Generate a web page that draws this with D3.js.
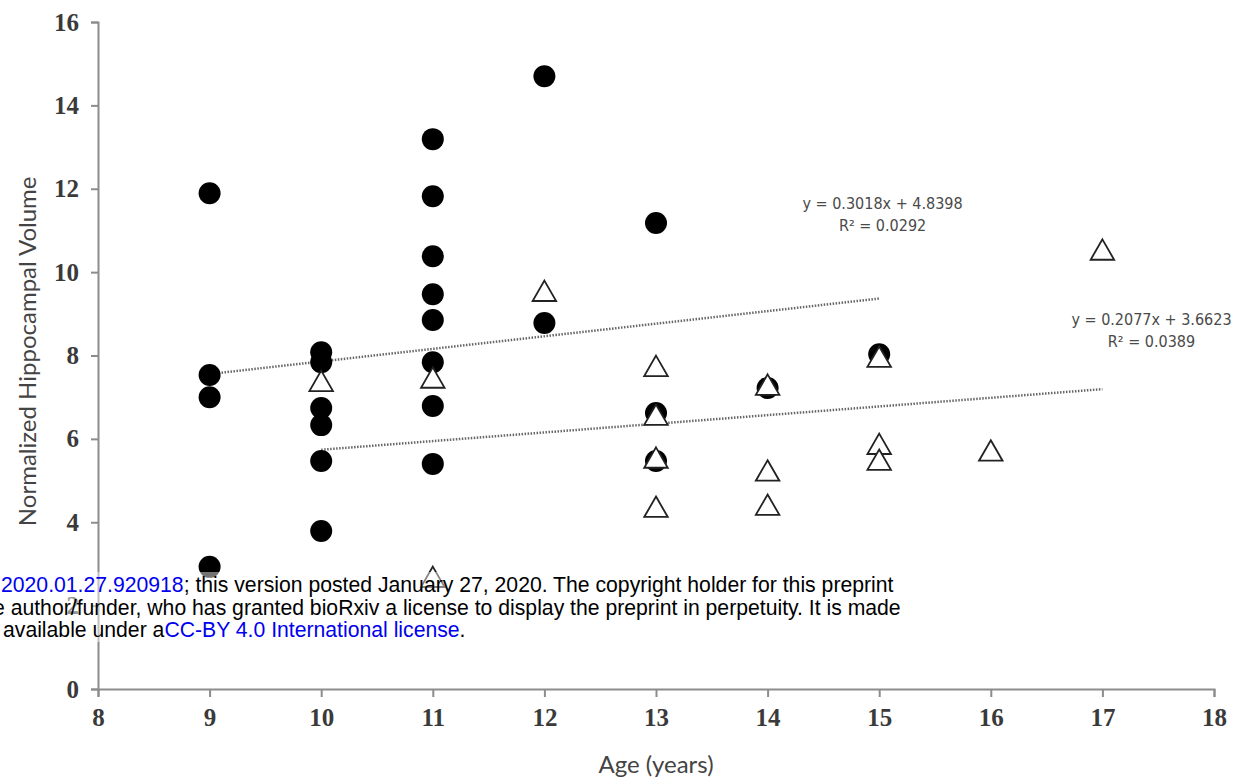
<!DOCTYPE html>
<html>
<head>
<meta charset="utf-8">
<script src="https://cdn.jsdelivr.net/npm/d3@7"></script>
<style>
  body { margin: 0; background: #fff; }
  svg { display: block; }
</style>
</head>
<body>
<svg id="chart" width="1236" height="781"></svg>
<script>
// Filled circles (group 1)
const solidAge = [9, 9, 9, 9, 10, 10, 10, 10, 10, 10, 11, 11, 11, 11, 11, 11, 11, 11, 12, 12, 13, 13, 13, 14, 15];
const solidVol = [11.89, 7.53, 7.0, 2.93, 8.08, 7.84, 6.74, 6.33, 5.47, 3.79, 13.19, 11.82, 10.38, 9.47, 8.85, 7.84, 6.79, 5.40, 14.70, 8.78, 11.18, 6.62, 5.47, 7.22, 8.03];

// Open triangles (group 2)
const openAge = [10, 11, 11, 12, 13, 13, 13, 13, 14, 14, 14, 15, 15, 15, 16, 17];
const openVol = [7.31, 7.39, 2.61, 9.47, 7.67, 6.5, 5.47, 4.29, 7.22, 5.16, 4.34, 7.89, 5.80, 5.42, 5.64, 10.46];

// Trend lines from the printed equations
const fitSlope = [0.3018, 0.2077];
const fitIntercept = [4.8398, 3.6623];
const fitFrom = [9, 10];
const fitTo = [15, 17];
const fitEquation = ["y = 0.3018x + 4.8398", "y = 0.2077x + 3.6623"];
const fitR2 = ["R² = 0.0292", "R² = 0.0389"];
const fitLabelAt = [[15.03, 11.52], [17.44, 8.74]];

const xTicks = [8, 9, 10, 11, 12, 13, 14, 15, 16, 17, 18];
const yTicks = [0, 2, 4, 6, 8, 10, 12, 14, 16];

const svg = d3.select("#chart");
const margin = { top: 22, right: 22, bottom: 92, left: 98 };
const width = 1236 - margin.left - margin.right;
const height = 781 - margin.top - margin.bottom;

const chart = svg.append("g")
  .attr("transform", `translate(${margin.left},${margin.top})`);

const x = d3.scaleLinear().domain([8, 18]).range([0, width]);
const y = d3.scaleLinear().domain([0, 16]).range([height, 0]);

const axisColor = "#8c8c8c";
const tickFont = "'Liberation Serif', 'DejaVu Serif', serif";

// X axis
const gx = chart.append("g")
  .attr("transform", `translate(0,${height})`)
  .call(d3.axisBottom(x).tickValues(xTicks).tickSize(8).tickPadding(11).tickFormat(d3.format("d")));
gx.select(".domain").attr("stroke", axisColor).attr("stroke-width", 2);
gx.selectAll(".tick line").attr("stroke", axisColor).attr("stroke-width", 2);
gx.selectAll(".tick text")
  .attr("fill", "#3a3a3a")
  .style("font-family", tickFont)
  .style("font-size", "25px")
  .style("font-weight", "bold");

// Y axis
const gy = chart.append("g")
  .call(d3.axisLeft(y).tickValues(yTicks).tickSize(7).tickPadding(12).tickFormat(d3.format("d")));
gy.select(".domain").attr("stroke", axisColor).attr("stroke-width", 2);
gy.selectAll(".tick line").attr("stroke", axisColor).attr("stroke-width", 2);
gy.selectAll(".tick text")
  .attr("fill", "#3a3a3a")
  .style("font-family", tickFont)
  .style("font-size", "25px")
  .style("font-weight", "bold");

// Axis titles
svg.append("text")
  .attr("x", margin.left + x(13))
  .attr("y", 773)
  .attr("text-anchor", "middle")
  .attr("fill", "#444")
  .style("font-family", "Lato, 'Open Sans', sans-serif")
  .style("font-size", "24px")
  .text("Age (years)");

svg.append("text")
  .attr("transform", `translate(36,${margin.top + y(8.1)}) rotate(-90)`)
  .attr("text-anchor", "middle")
  .attr("fill", "#444")
  .style("font-family", "Lato, 'Open Sans', sans-serif")
  .style("font-size", "24px")
  .text("Normalized Hippocampal Volume");

// Trend lines
fitSlope.forEach((m, i) => {
  const pts = [fitFrom[i], fitTo[i]];
  chart.append("path")
    .datum(pts)
    .attr("fill", "none")
    .attr("stroke", "#666")
    .attr("stroke-width", 2.5)
    .attr("stroke-dasharray", "1.5,1.5")
    .attr("d", d3.line().x(d => x(d)).y(d => y(m * d + fitIntercept[i])));

  const lab = chart.append("text")
    .attr("x", x(fitLabelAt[i][0]))
    .attr("y", y(fitLabelAt[i][1]))
    .attr("text-anchor", "middle")
    .attr("fill", "#4a4a4a")
    .style("font-family", "'Liberation Sans Narrow', 'DejaVu Sans Condensed', sans-serif")
    .style("font-size", "16px");
  lab.append("tspan").attr("x", x(fitLabelAt[i][0])).text(fitEquation[i]);
  lab.append("tspan").attr("x", x(fitLabelAt[i][0])).attr("dy", 22).text(fitR2[i]);
});

// Filled circles
chart.append("g")
  .selectAll("circle")
  .data(solidAge.map((a, i) => ({ age: a, vol: solidVol[i] })))
  .join("circle")
  .attr("cx", d => x(d.age))
  .attr("cy", d => y(d.vol))
  .attr("r", 11)
  .attr("fill", "#000");

// Open triangles
const tri = d3.symbol().type(d3.symbolTriangle).size(240);
chart.append("g")
  .selectAll("path")
  .data(openAge.map((a, i) => ({ age: a, vol: openVol[i] })))
  .join("path")
  .attr("transform", d => `translate(${x(d.age)},${y(d.vol)})`)
  .attr("d", tri)
  .attr("fill", "#fff")
  .attr("stroke", "#222")
  .attr("stroke-width", 1.8);

// bioRxiv watermark overlaid on the figure
const wm = svg.append("g")
  .style("font-family", "'Liberation Sans', Arial, sans-serif")
  .style("font-size", "21.2px");
wm.append("rect")
  .attr("x", 0).attr("y", 572).attr("width", 912).attr("height", 70)
  .attr("fill", "#fff").attr("opacity", 0.45);

const l1 = wm.append("text").attr("x", 1).attr("y", 592).attr("fill", "#000");
l1.append("tspan").attr("fill", "#0000ee").text("2020.01.27.920918");
l1.append("tspan").text("; this version posted January 27, 2020. The copyright holder for this preprint");

wm.append("text").attr("x", -7).attr("y", 615).attr("fill", "#000")
  .text("e author/funder, who has granted bioRxiv a license to display the preprint in perpetuity. It is made");

const l3 = wm.append("text").attr("x", 3).attr("y", 637).attr("fill", "#000");
l3.append("tspan").text(" available under a");
l3.append("tspan").attr("fill", "#0000ee").text("CC-BY 4.0 International license");
l3.append("tspan").text(".");
</script>
</body>
</html>
